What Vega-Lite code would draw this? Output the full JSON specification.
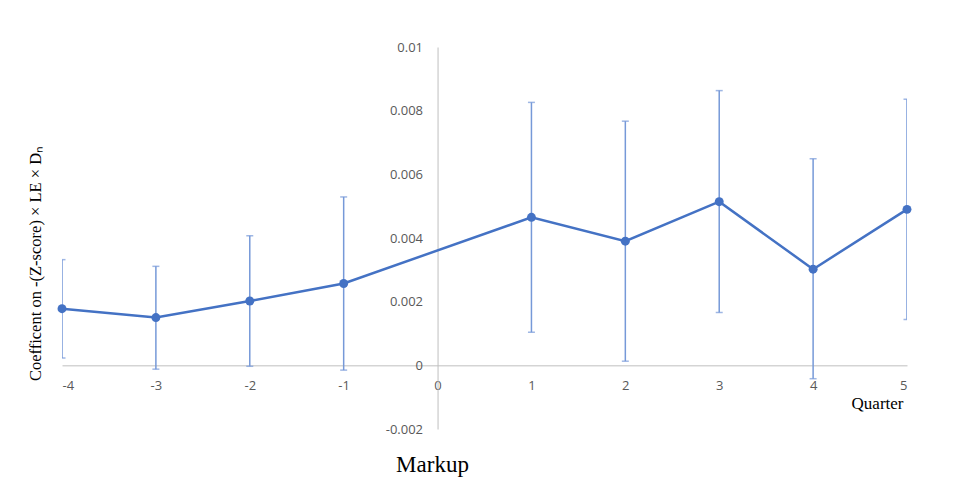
{
  "$schema": "https://vega.github.io/schema/vega-lite/v6.json",
  "autosize": "none",
  "width": 845,
  "height": 382,
  "padding": {"left": 62, "top": 47, "right": 50, "bottom": 64},
  "background": "white",
  "config": {"view": {"stroke": null}},
  "title": {"text": "Markup", "orient": "bottom", "font": "Liberation Serif", "fontSize": 23, "fontWeight": "normal", "color": "black", "anchor": "middle", "dx": -52, "offset": 18},
  "data": {"values": [
    {"q": -4, "coef": 0.00178, "lo": 0.00023, "hi": 0.00332},
    {"q": -3, "coef": 0.0015, "lo": -0.00012, "hi": 0.00311},
    {"q": -2, "coef": 0.00202, "lo": -0.00003, "hi": 0.00407},
    {"q": -1, "coef": 0.00257, "lo": -0.00015, "hi": 0.00529},
    {"q": 1, "coef": 0.00465, "lo": 0.00104, "hi": 0.00826},
    {"q": 2, "coef": 0.0039, "lo": 0.00013, "hi": 0.00767},
    {"q": 3, "coef": 0.00514, "lo": 0.00166, "hi": 0.00863},
    {"q": 4, "coef": 0.00302, "lo": -0.00042, "hi": 0.00649},
    {"q": 5, "coef": 0.0049, "lo": 0.00144, "hi": 0.00836}
  ]},
  "encoding": {
    "x": {"field": "q", "type": "quantitative",
      "scale": {"domain": [-4, 5], "nice": false, "zero": false},
      "axis": {"values": [-4, -3, -2, -1, 0, 1, 2, 3, 4, 5], "offset": -63.67, "ticks": false, "grid": false,
        "labelExpr": "replace(datum.label, '\u2212', '-')",
        "domainColor": "#BFBFBF", "domainWidth": 1, "labelPadding": 14, "labelFont": "Open Sans", "labelFontSize": 13, "labelColor": "#595959",
        "title": "Quarter", "titleFont": "Liberation Serif", "titleFontSize": 17, "titleFontWeight": "normal", "titleColor": "black",
        "titleX": 841, "titleY": 38, "titleAlign": "right", "titleBaseline": "middle", "titleAnchor": null}}
  },
  "layer": [
    {"mark": {"type": "rule", "color": "#7699D8", "strokeWidth": 1.5, "clip": true},
     "encoding": {
       "y": {"field": "lo", "type": "quantitative",
         "scale": {"domain": [-0.002, 0.01], "nice": false},
         "axis": {"values": [-0.002, 0, 0.002, 0.004, 0.006, 0.008, 0.01], "format": "~f", "orient": "left", "offset": -375.56,
           "labelExpr": "replace(datum.label, '\u2212', '-')",
           "ticks": false, "grid": false, "domainColor": "#BFBFBF", "domainWidth": 1, "labelPadding": 15, "labelOverlap": false,
           "labelFont": "Open Sans", "labelFontSize": 13, "labelColor": "#595959",
           "title": "Coefficent on -(Z-score) × LE × Dₙ", "titleFont": "Liberation Serif", "titleFontSize": 16.5, "titleFontWeight": "normal", "titleColor": "black",
           "titleX": -401.6, "titleY": 216, "titleAngle": -90, "titleAlign": "center", "titleBaseline": "middle", "titleAnchor": null}},
       "y2": {"field": "hi"}
     }},
    {"mark": {"type": "tick", "orient": "horizontal", "size": 7, "thickness": 1.5, "color": "#7699D8", "clip": true},
     "encoding": {"y": {"field": "lo", "type": "quantitative"}}},
    {"mark": {"type": "tick", "orient": "horizontal", "size": 7, "thickness": 1.5, "color": "#7699D8", "clip": true},
     "encoding": {"y": {"field": "hi", "type": "quantitative"}}},
    {"mark": {"type": "line", "color": "#4472C4", "strokeWidth": 2.5},
     "encoding": {"y": {"field": "coef", "type": "quantitative"}}},
    {"mark": {"type": "point", "filled": true, "color": "#4472C4", "size": 80, "opacity": 1},
     "encoding": {"y": {"field": "coef", "type": "quantitative"}}}
  ]
}
